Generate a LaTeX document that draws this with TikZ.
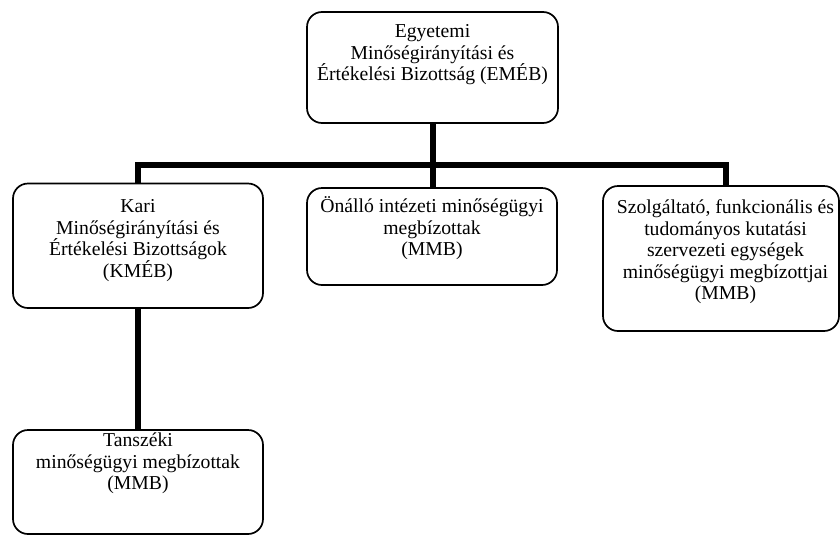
\documentclass[tikz,border=0pt]{standalone}
\usepackage{fontspec}
\setmainfont{Liberation Serif}
\usetikzlibrary{fit}
\newcommand{\fl}{\rule{0pt}{18pt}}
\begin{document}
\begin{tikzpicture}[x=1pt,y=-1pt,
  box/.style={draw=black,line width=1.7pt,rounded corners=15pt,inner sep=0pt},
  label/.style={anchor=north,align=center,inner sep=0pt,font=\fontsize{19.7}{21.5}\selectfont},
  conn/.style={line width=6pt}]
\useasboundingbox (0,0) rectangle (840,536);
% boxes
\node[box,fit={(307,12) (558,123)}] (eme) {};
\node[box,fit={(13,183.5) (263,308)}] (kme) {};
\node[box,fit={(307,188) (557,285)}] (oni) {};
\node[box,fit={(603,186) (839,331)}] (szo) {};
\node[box,fit={(13,430) (263,534)}] (tan) {};
% texts
\coordinate (yeme) at (0,19.5);
\coordinate (ymid) at (0,194.5);
\coordinate (yszo) at (725.5,195.5);
\coordinate (ytan) at (0,428.5);
\node[label] (teme) at (eme.north |- yeme) {\fl Egyetemi\\Minőségirányítási és\\Értékelési Bizottság (EMÉB)};
\node[label] (tkme) at (kme.north |- ymid) {\fl Kari\\Minőségirányítási és\\Értékelési Bizottságok\\(KMÉB)};
\node[label] (toni) at (oni.north |- ymid) {\fl Önálló intézeti minőségügyi\\megbízottak\\(MMB)};
\node[label] (tszo) at (yszo) {\fl Szolgáltató, funkcionális és\\tudományos kutatási\\szervezeti egységek\\minőségügyi megbízottjai\\(MMB)};
\node[label] (ttan) at (tan.north |- ytan) {\fl Tanszéki\\minőségügyi megbízottak\\(MMB)};
% connectors
\coordinate (bar) at (432.5,164.5);
\coordinate (barL) at (138,164.5);
\coordinate (barR) at (726,164.5);
\draw[conn] (eme.south -| bar) -- (bar);
\draw[conn,line cap=rect] (barL) -- (barR);
\draw[conn] (barL) -- (barL |- kme.north);
\draw[conn] (bar) -- (bar |- oni.north);
\draw[conn] (barR) -- (barR |- szo.north);
\draw[conn] (kme.south -| barL) -- (tan.north -| barL);
\end{tikzpicture}
\end{document}
